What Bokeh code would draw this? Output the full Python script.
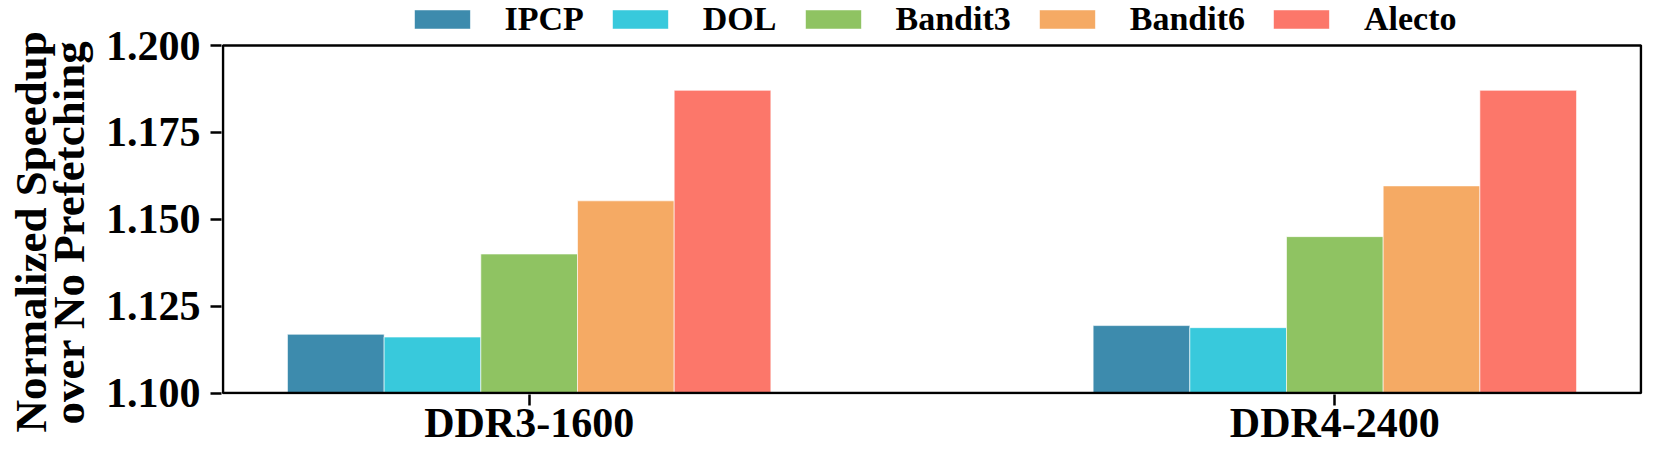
from bokeh.plotting import figure
from bokeh.models import (Range1d, FixedTicker, Legend, LegendItem, NumeralTickFormatter,
                          BoxAnnotation, Title)
from bokeh.embed import file_html
from bokeh.resources import INLINE

# ---- data ----
groups = ["DDR3-1600", "DDR4-2400"]
series = ["IPCP", "DOL", "Bandit3", "Bandit6", "Alecto"]
ipcp = [1.1169, 1.1194]
dol = [1.1161, 1.1188]
bandit3 = [1.1400, 1.1450]
bandit6 = [1.1553, 1.1596]
alecto = [1.1871, 1.1871]
values = [ipcp, dol, bandit3, bandit6, alecto]
colors = ["#3D8BAD", "#38C9DC", "#8FC362", "#F5AA64", "#FC776A"]
y_ticks = [1.100, 1.125, 1.150, 1.175, 1.200]
y_label_lines = ["Normalized Speedup", "over No Prefetching"]

FONT = "Liberation Serif"
bar_w = 0.12
x_lo, x_hi = -0.38, 1.38
y_lo, y_hi = y_ticks[0], y_ticks[-1]

# ---- layout (pixels) ----
W, H = 1644, 448
LEFT, RIGHT, TOP, BOTTOM = 221, 2, 0, 54
LEGEND_SPACE = 45          # room above the plot box for the legend
PAD = 1.5                  # keeps the box stroke inside the frame
frame_w = W - LEFT - RIGHT
frame_h = H - TOP - BOTTOM
kx = (x_hi - x_lo) / (frame_w - 2 * PAD)
ky = (y_hi - y_lo) / (frame_h - LEGEND_SPACE - PAD)

p = figure(width=W, height=H, output_backend="svg", toolbar_location=None,
           x_range=Range1d(x_lo - PAD * kx, x_hi + PAD * kx),
           y_range=Range1d(y_lo - PAD * ky, y_hi + LEGEND_SPACE * ky),
           min_border_left=LEFT, min_border_right=RIGHT, min_border_top=TOP,
           min_border_bottom=BOTTOM)

renderers = []
for i, (name, vals, col) in enumerate(zip(series, values, colors)):
    xs = [g + (i - 2) * bar_w for g in range(len(groups))]
    r = p.vbar(x=xs, top=vals, bottom=y_lo, width=bar_w, fill_color=col,
               line_color="white", line_width=1, line_alpha=0.6)
    renderers.append((name, r))

# plot box (spines)
p.add_layout(BoxAnnotation(left=x_lo, right=x_hi, bottom=y_lo, top=y_hi,
                           fill_alpha=0, line_color="black", line_width=2.5,
                           line_alpha=1.0))

p.xgrid.visible = False
p.ygrid.visible = False
p.outline_line_color = None
p.background_fill_color = "white"
p.border_fill_color = "white"

p.xaxis.ticker = FixedTicker(ticks=list(range(len(groups))))
p.xaxis.major_label_overrides = {i: g for i, g in enumerate(groups)}
p.yaxis.ticker = FixedTicker(ticks=y_ticks)
p.yaxis.formatter = NumeralTickFormatter(format="0.000")

for ax in (p.xaxis, p.yaxis):
    ax.axis_line_color = None
    ax.major_tick_line_width = 2.5
    ax.major_tick_line_color = "black"
    ax.major_tick_out = 11
    ax.major_tick_in = 0
    ax.minor_tick_out = 0
    ax.minor_tick_in = 0
    ax.major_label_text_font = FONT
    ax.major_label_text_font_style = "bold"
    ax.major_label_text_font_size = "42px"
    ax.major_label_text_color = "black"

p.xaxis.major_label_standoff = -6
p.yaxis.major_label_standoff = 10
# small spacer between tick labels and the y title
p.yaxis.axis_label = " "
p.yaxis.axis_label_text_font_size = "2px"
p.yaxis.axis_label_standoff = 4

# two-line y-axis title (inner line first)
for line, off, so in [(y_label_lines[1], -30, 0), (y_label_lines[0], -38, -28)]:
    p.add_layout(Title(text=line, align="left", offset=off, standoff=so,
                       text_font=FONT, text_font_style="bold",
                       text_font_size="45px", text_color="black"), "left")

legend = Legend(items=[LegendItem(label=n, renderers=[r]) for n, r in renderers],
                orientation="horizontal", location="top_center",
                glyph_width=70, glyph_height=24, label_standoff=28, spacing=21,
                padding=0, margin=0, border_line_alpha=0, background_fill_alpha=0,
                label_text_font=FONT, label_text_font_style="bold",
                label_text_font_size="34px", label_text_color="black")
p.add_layout(legend)

open("out.html", "w").write(file_html(p, INLINE))
